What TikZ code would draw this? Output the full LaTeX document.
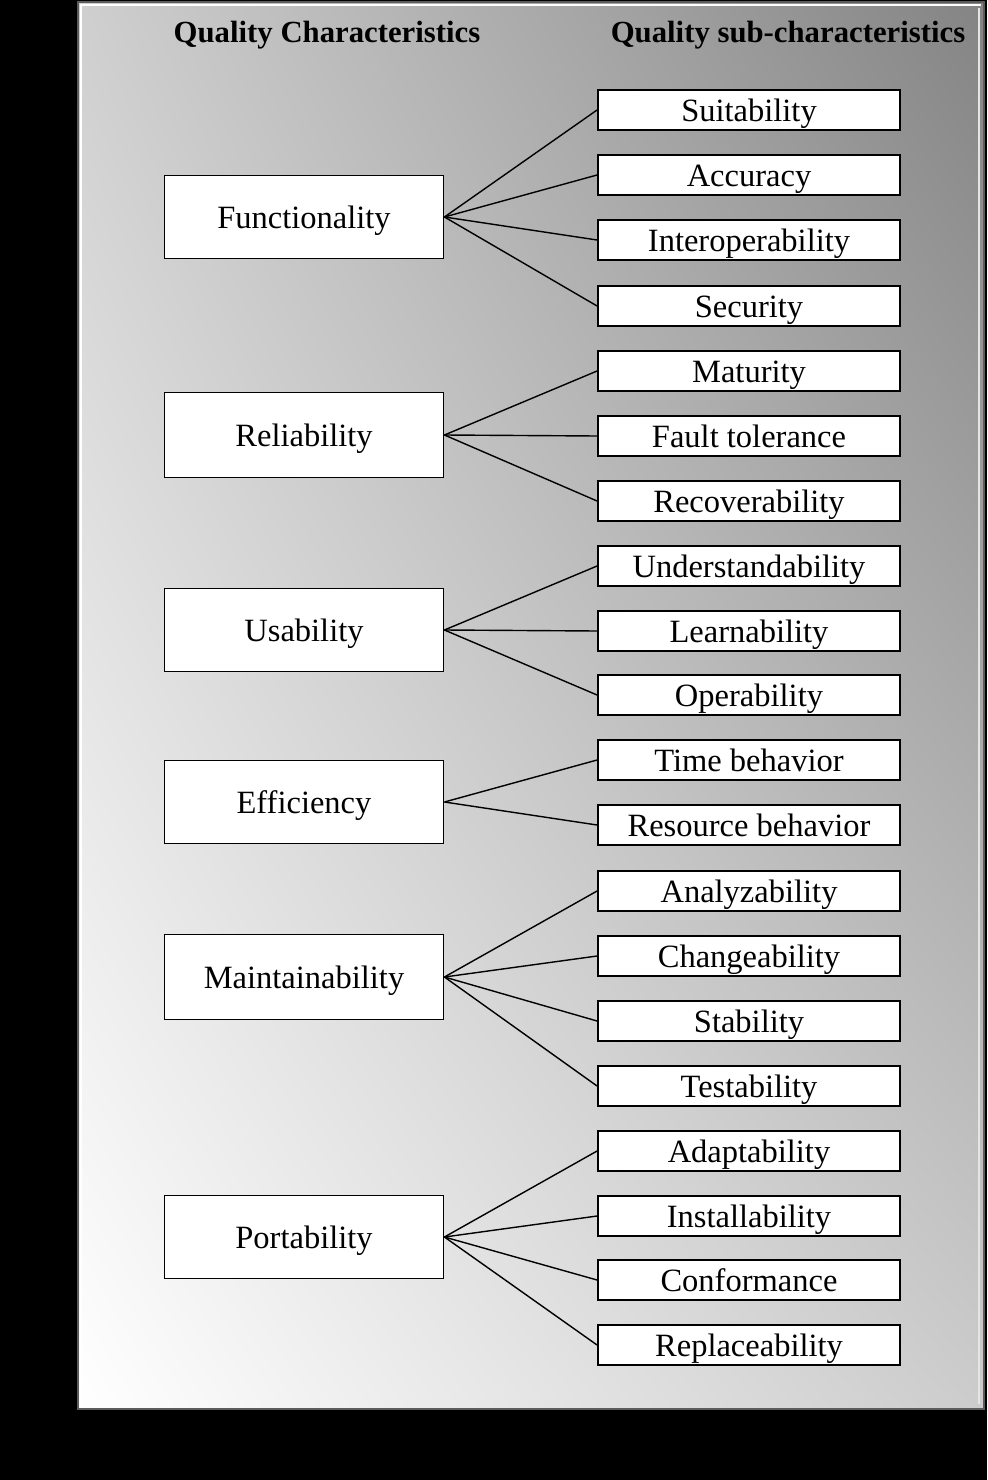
\documentclass[tikz,border=0pt]{standalone}
\usepackage{fontspec}
\setmainfont{Liberation Serif}
\usetikzlibrary{positioning,shadings}
\definecolor{shadetl}{HTML}{CFCFCF}
\definecolor{shadetr}{HTML}{848484}
\definecolor{shadebr}{HTML}{CCCCCC}
\definecolor{frame}{HTML}{5C5C5C}
\tikzset{every node/.style={font=\fontsize{18.5}{22}\selectfont},
 mainbox/.style={draw=black,fill=white,line width=1.1pt,minimum width=5.58cm,minimum height=1.66cm,inner sep=0pt,text height=12.8pt,text depth=0pt},
 subbox/.style={draw=black,fill=white,line width=1.1pt,minimum width=6.04cm,minimum height=.8cm,inner sep=0pt,text height=12.8pt,text depth=0pt},
 header/.style={font=\bfseries\fontsize{17.5}{21}\selectfont},
 link/.style={draw=black,line width=.8pt}}
\begin{document}
\begin{tikzpicture}[x=.02cm,y=-.02cm]

\fill[black] (0,0) rectangle (987,1480);
\useasboundingbox (0,0) rectangle (987,1480);
\shade[upper left=shadetl,upper right=shadetr,lower left=white,lower right=shadebr] (78,2) rectangle (984,1409);
\draw[frame,line width=1.4pt] (78,2) rectangle (984,1409);
\draw[white,line width=1.2pt] (81,1406) -- (81,5) -- (981,5);
\draw[white!80!gray,line width=1pt] (979,8) -- (979,1404);

\node[header] (hmain) at (327,35) {Quality Characteristics};
\node[header] (hsub) at (788,35) {Quality sub-characteristics};

\node[mainbox] (func) at (304,217) {Functionality};
\node[mainbox,minimum height=1.7cm] (reli) at (304,435) {Reliability};
\node[mainbox] (usab) at (304,630) {Usability};
\node[mainbox] (effi) at (304,802) {Efficiency};
\node[mainbox,minimum height=1.7cm] (main) at (304,977) {Maintainability};
\node[mainbox] (port) at (304,1237) {Portability};

\node[subbox] (suit) at (749,110) {Suitability};
\node[subbox] (accu) at (749,175) {Accuracy};
\node[subbox] (inte) at (749,240) {Interoperability};
\node[subbox] (secu) at (749,306) {Security};
\node[subbox] (matu) at (749,371) {Maturity};
\node[subbox] (faul) at (749,436) {Fault tolerance};
\node[subbox] (reco) at (749,501) {Recoverability};
\node[subbox] (unde) at (749,566) {Understandability};
\node[subbox] (lear) at (749,631) {Learnability};
\node[subbox] (oper) at (749,695) {Operability};
\node[subbox] (time) at (749,760) {Time behavior};
\node[subbox] (reso) at (749,825) {Resource behavior};
\node[subbox] (anal) at (749,891) {Analyzability};
\node[subbox] (chan) at (749,956) {Changeability};
\node[subbox] (stab) at (749,1021) {Stability};
\node[subbox] (test) at (749,1086) {Testability};
\node[subbox] (adap) at (749,1151) {Adaptability};
\node[subbox] (inst) at (749,1216) {Installability};
\node[subbox] (conf) at (749,1280) {Conformance};
\node[subbox] (repl) at (749,1345) {Replaceability};

\draw[link] (func.east)--(suit.west);
\draw[link] (func.east)--(accu.west);
\draw[link] (func.east)--(inte.west);
\draw[link] (func.east)--(secu.west);
\draw[link] (reli.east)--(matu.west);
\draw[link] (reli.east)--(faul.west);
\draw[link] (reli.east)--(reco.west);
\draw[link] (usab.east)--(unde.west);
\draw[link] (usab.east)--(lear.west);
\draw[link] (usab.east)--(oper.west);
\draw[link] (effi.east)--(time.west);
\draw[link] (effi.east)--(reso.west);
\draw[link] (main.east)--(anal.west);
\draw[link] (main.east)--(chan.west);
\draw[link] (main.east)--(stab.west);
\draw[link] (main.east)--(test.west);
\draw[link] (port.east)--(adap.west);
\draw[link] (port.east)--(inst.west);
\draw[link] (port.east)--(conf.west);
\draw[link] (port.east)--(repl.west);

\end{tikzpicture}
\end{document}
